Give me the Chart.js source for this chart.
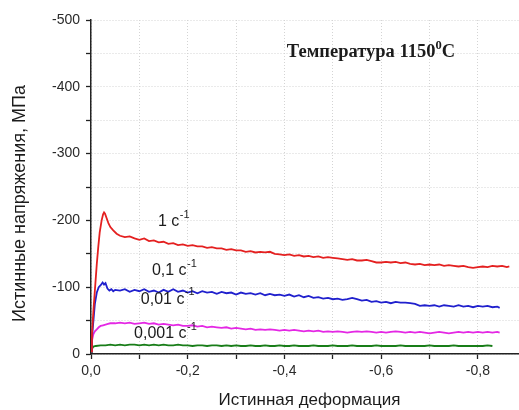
<!DOCTYPE html>
<html>
<head>
<meta charset="utf-8">
<script src="https://cdn.jsdelivr.net/npm/chart.js@4/dist/chart.umd.min.js"></script>
<style>
  html, body { margin: 0; padding: 0; background: #fff; }
  canvas { display: block; }
</style>
</head>
<body>
<canvas id="chart" width="519" height="410"></canvas>
<script>
// True strain / true stress curves at 1150 °C for four strain rates.

// 1 s^-1
const strain1 = [
  0, -0.002, -0.005, -0.008, -0.012, -0.015, -0.018, -0.022, -0.025, -0.027,
  -0.029, -0.032, -0.036, -0.040, -0.046, -0.053, -0.060,
  -0.07, -0.08, -0.09, -0.10, -0.11, -0.12, -0.13, -0.14, -0.15, -0.16,
  -0.17, -0.18, -0.19, -0.20, -0.21, -0.22, -0.23, -0.24, -0.25, -0.26,
  -0.27, -0.28, -0.29, -0.30, -0.31, -0.32, -0.33, -0.34, -0.35, -0.36,
  -0.37, -0.38, -0.39, -0.40, -0.41, -0.42, -0.43, -0.44, -0.45, -0.46,
  -0.47, -0.48, -0.49, -0.50, -0.51, -0.52, -0.53, -0.54, -0.55, -0.56,
  -0.57, -0.58, -0.59, -0.60, -0.61, -0.62, -0.63, -0.64, -0.65, -0.66,
  -0.67, -0.68, -0.69, -0.70, -0.71, -0.72, -0.73, -0.74, -0.75, -0.76,
  -0.77, -0.78, -0.79, -0.80, -0.81, -0.82, -0.83, -0.84, -0.85, -0.86,
  -0.865
];
const stress1 = [
  -4, -30, -65, -95, -135, -160, -182, -200, -209, -212,
  -210, -204, -196, -190, -185, -180, -177,
  -175, -176, -173, -171, -173, -169, -170, -167, -168, -165,
  -166, -163, -164, -162, -163, -161, -161, -159, -160, -158,
  -158, -156, -157, -155, -155, -153, -154, -152, -153, -152,
  -153, -150, -149, -148, -149, -147, -148, -146, -147, -145,
  -146, -144, -145, -144, -143, -142, -141, -142, -140, -140,
  -141, -139, -137, -137, -138, -137, -138, -136, -137, -135,
  -134, -135, -133, -134, -133, -134, -132, -133, -132, -131,
  -132, -130, -129, -130, -131, -130, -132, -131, -132, -130,
  -131
];

// 0.1 s^-1
const strain2 = [
  0, -0.002, -0.005, -0.008, -0.012, -0.016, -0.020, -0.024, -0.027, -0.030,
  -0.034, -0.038, -0.042, -0.046, -0.050,
  -0.06, -0.07, -0.08, -0.09, -0.10, -0.11, -0.12, -0.13, -0.14, -0.15,
  -0.16, -0.17, -0.18, -0.19, -0.20, -0.21, -0.22, -0.23, -0.24, -0.25,
  -0.26, -0.27, -0.28, -0.29, -0.30, -0.31, -0.32, -0.33, -0.34, -0.35,
  -0.36, -0.37, -0.38, -0.39, -0.40, -0.41, -0.42, -0.43, -0.44, -0.45,
  -0.46, -0.47, -0.48, -0.49, -0.50, -0.51, -0.52, -0.53, -0.54, -0.55,
  -0.56, -0.57, -0.58, -0.59, -0.60, -0.61, -0.62, -0.63, -0.64, -0.65,
  -0.66, -0.67, -0.68, -0.69, -0.70, -0.71, -0.72, -0.73, -0.74, -0.75,
  -0.76, -0.77, -0.78, -0.79, -0.80, -0.81, -0.82, -0.83, -0.84,
  -0.845
];
const stress2 = [
  -4, -25, -50, -75, -92, -100, -103, -107, -104, -106,
  -98, -95, -97, -94, -96,
  -95, -97, -93, -96, -94, -97, -93, -95, -92, -96,
  -93, -97, -93, -95, -92, -94, -91, -94, -92, -93,
  -90, -93, -91, -92, -89, -92, -90, -91, -89, -91,
  -88, -90, -88, -89, -87, -89, -86, -88, -85, -87,
  -84, -85, -83, -84, -82, -83, -81, -82, -84, -82,
  -80, -81, -78, -79, -77, -78, -76, -78, -77, -77,
  -76, -75, -72, -73, -72, -73, -71, -73, -72, -71,
  -73, -71, -72, -70, -72, -71, -72, -70, -71,
  -69
];

// 0.01 s^-1
const strain3 = [
  0, -0.002, -0.005, -0.008, -0.012, -0.016, -0.020, -0.025, -0.030, -0.035,
  -0.040,
  -0.05, -0.06, -0.07, -0.08, -0.09, -0.10, -0.11, -0.12, -0.13, -0.14,
  -0.15, -0.16, -0.17, -0.18, -0.19, -0.20, -0.21, -0.22, -0.23, -0.24,
  -0.25, -0.26, -0.27, -0.28, -0.29, -0.30, -0.31, -0.32, -0.33, -0.34,
  -0.35, -0.36, -0.37, -0.38, -0.39, -0.40, -0.41, -0.42, -0.43, -0.44,
  -0.45, -0.46, -0.47, -0.48, -0.49, -0.50, -0.51, -0.52, -0.53, -0.54,
  -0.55, -0.56, -0.57, -0.58, -0.59, -0.60, -0.61, -0.62, -0.63, -0.64,
  -0.65, -0.66, -0.67, -0.68, -0.69, -0.70, -0.71, -0.72, -0.73, -0.74,
  -0.75, -0.76, -0.77, -0.78, -0.79, -0.80, -0.81, -0.82, -0.83, -0.84,
  -0.845
];
const stress3 = [
  -4, -20, -30, -34, -37, -40, -42, -43, -44, -45,
  -46,
  -46, -47, -46, -47, -45, -46, -47, -45, -46, -44,
  -45, -44, -43, -44, -42, -42, -43, -41, -42, -40,
  -41, -40, -39, -40, -38, -39, -38, -37, -38, -36,
  -37, -36, -37, -36, -35, -36, -35, -36, -35, -34,
  -35, -34, -35, -33, -34, -33, -34, -33, -32, -33,
  -34, -33, -34, -33, -32, -33, -32, -33, -34, -33,
  -32, -33, -32, -33, -32, -31, -32, -33, -32, -31,
  -32, -33, -32, -33, -32, -33, -32, -33, -32, -33,
  -32
];

// 0.001 s^-1
const strain4 = [
  0, -0.002, -0.005,
  -0.01, -0.02, -0.03, -0.04, -0.05, -0.06, -0.07, -0.08, -0.09, -0.10,
  -0.11, -0.12, -0.13, -0.14, -0.15, -0.16, -0.17, -0.18, -0.19, -0.20,
  -0.21, -0.22, -0.23, -0.24, -0.25, -0.26, -0.27, -0.28, -0.29, -0.30,
  -0.31, -0.32, -0.33, -0.34, -0.35, -0.36, -0.37, -0.38, -0.39, -0.40,
  -0.41, -0.42, -0.43, -0.44, -0.45, -0.46, -0.47, -0.48, -0.49, -0.50,
  -0.51, -0.52, -0.53, -0.54, -0.55, -0.56, -0.57, -0.58, -0.59, -0.60,
  -0.61, -0.62, -0.63, -0.64, -0.65, -0.66, -0.67, -0.68, -0.69, -0.70,
  -0.71, -0.72, -0.73, -0.74, -0.75, -0.76, -0.77, -0.78, -0.79, -0.80,
  -0.81, -0.82, -0.83
];
const stress4 = [
  -3, -8, -11,
  -12, -13, -13, -14, -13, -14, -13, -14, -14, -13,
  -14, -13, -14, -13, -14, -13, -13, -14, -13, -13,
  -12, -13, -13, -12, -13, -13, -12, -13, -12, -13,
  -12, -12, -13, -12, -12, -13, -12, -12, -13, -12,
  -12, -13, -12, -12, -12, -13, -12, -12, -12, -13,
  -12, -12, -12, -13, -12, -12, -12, -12, -13, -12,
  -12, -12, -12, -13, -12, -12, -12, -12, -12, -13,
  -12, -12, -12, -12, -13, -12, -12, -12, -12, -12,
  -12, -13, -12
];

// Curve labels (strain rate, s^-1) and where they sit, in data units
const rateLabels = ['1 c', '0,1 c', '0,01 c', '0,001 c'];
const rateLabelStrain = [-0.1385, -0.126, -0.103, -0.089];
const rateLabelStress = [-198, -125, -82, -30];

const lineColors = ['rgb(228,32,32)', 'rgb(32,32,205)', 'rgb(228,40,228)', 'rgb(24,125,24)'];

const pairs = (xs, ys) => xs.map((v, i) => ({ x: v, y: ys[i] }));

const series = [
  pairs(strain1, stress1),
  pairs(strain2, stress2),
  pairs(strain3, stress3),
  pairs(strain4, stress4)
];

const SANS = '"Liberation Sans", Arial, sans-serif';
const SERIF = '"Liberation Serif", "Times New Roman", serif';
const INK = '#1c1c1c';

// Texts drawn on top of the plot: curve labels, temperature note, axis titles
const annotations = {
  id: 'annotations',
  afterDraw(chart) {
    const { ctx, scales: { x, y } } = chart;
    ctx.save();
    ctx.fillStyle = INK;
    ctx.textAlign = 'left';
    ctx.textBaseline = 'middle';

    rateLabels.forEach((txt, i) => {
      const px = x.getPixelForValue(rateLabelStrain[i]);
      const py = y.getPixelForValue(rateLabelStress[i]);
      ctx.font = '16px ' + SANS;
      ctx.fillText(txt, px, py);
      const w = ctx.measureText(txt).width;
      ctx.font = '11px ' + SANS;
      ctx.fillText('-1', px + w + 0.5, py - 7);
    });

    // Temperature note
    const tx = x.getPixelForValue(-0.405);
    const ty = y.getPixelForValue(-452);
    ctx.font = 'bold 18.5px ' + SERIF;
    const main = 'Температура 1150';
    ctx.fillText(main, tx, ty);
    let cx = tx + ctx.measureText(main).width;
    ctx.font = 'bold 12.5px ' + SERIF;
    ctx.fillText('0', cx, ty - 6);
    cx += ctx.measureText('0').width;
    ctx.font = 'bold 18.5px ' + SERIF;
    ctx.fillText('C', cx, ty);

    // Axis titles
    ctx.textAlign = 'center';
    ctx.font = '17px ' + SANS;
    ctx.fillText('Истинная деформация', 309.5, 400);
    ctx.font = '18px ' + SANS;
    ctx.translate(20, 203.5);
    ctx.rotate(-Math.PI / 2);
    ctx.fillText('Истинные напряжения, МПа', 0, 0);
    ctx.restore();
  }
};

const gridStyle = {
  color: '#d4d4d4',
  lineWidth: 1,
  tickColor: '#222',
  tickLength: 5,
  tickWidth: 1.3
};

new Chart(document.getElementById('chart'), {
  type: 'line',
  data: {
    datasets: series.map((pts, i) => ({
      data: pts,
      borderColor: lineColors[i],
      borderWidth: 1.8,
      pointRadius: 0,
      tension: 0,
      fill: false
    }))
  },
  options: {
    responsive: false,
    animation: false,
    devicePixelRatio: 1,
    layout: { padding: { top: 20, right: 0, bottom: 0, left: 0 } },
    plugins: {
      legend: { display: false },
      tooltip: { enabled: false }
    },
    scales: {
      x: {
        type: 'linear',
        min: -0.885,
        max: 0,
        reverse: true,
        grid: gridStyle,
        border: { display: true, color: '#222', width: 1.5, dash: [1, 2] },
        ticks: {
          stepSize: 0.1,
          includeBounds: false,
          maxRotation: 0,
          autoSkip: false,
          padding: 4,
          color: '#2a2a2a',
          font: { family: SANS, size: 14 },
          callback: (v) => {
            const k = Math.round(Math.abs(v) * 10);
            if (k % 2 !== 0) return '';
            return (v === 0 ? '0,0' : v.toFixed(1).replace('.', ','));
          }
        },
        afterFit: (s) => { s.height = 56; }
      },
      y: {
        type: 'linear',
        min: -500,
        max: 0,
        reverse: true,
        grid: gridStyle,
        border: { display: true, color: '#222', width: 1.5, dash: [1, 2] },
        ticks: {
          stepSize: 50,
          autoSkip: false,
          padding: 6,
          color: '#2a2a2a',
          font: { family: SANS, size: 14 },
          callback: (v) => (Math.round(v) % 100 === 0 ? String(Math.round(v)) : '')
        },
        afterFit: (s) => { s.width = 91; }
      }
    }
  },
  plugins: [annotations]
});
</script>
</body>
</html>
